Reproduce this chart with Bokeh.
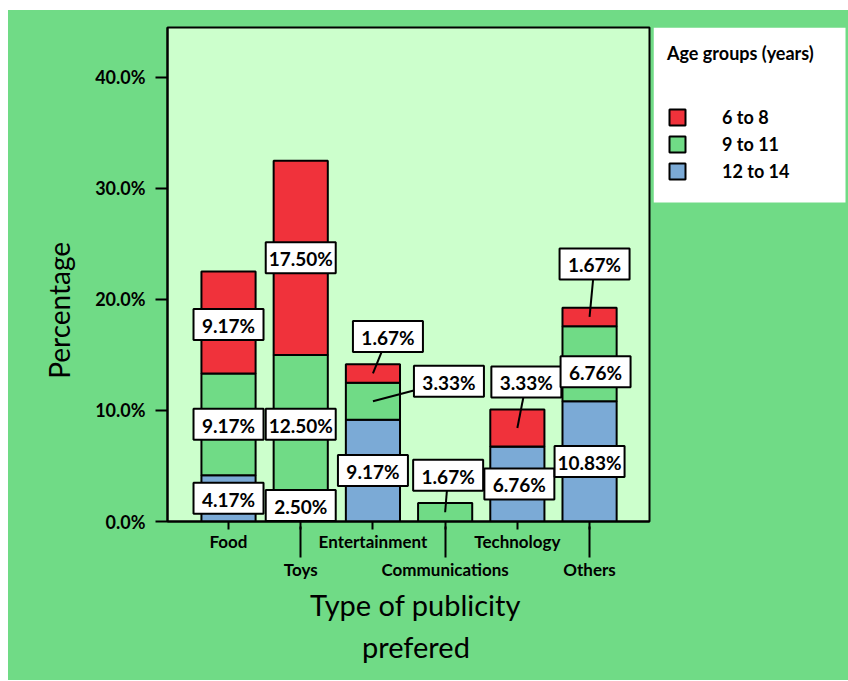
from bokeh.plotting import figure
from bokeh.models import (ColumnDataSource, FixedTicker, LinearAxis, Range1d,
                          Legend, LegendItem, PrintfTickFormatter, Spacer)
from bokeh.layouts import row, column
from bokeh.core.properties import value
from bokeh.embed import file_html
from bokeh.resources import INLINE

# ---------------- data ----------------
categories = ["Food", "Toys", "Entertainment", "Communications", "Technology", "Others"]
age_groups = ["6 to 8", "9 to 11", "12 to 14"]
pct_12_14 = [4.17, 2.50, 9.17, 0.0, 6.76, 10.83]
pct_9_11 = [9.17, 12.50, 3.33, 1.67, 0.0, 6.76]
pct_6_8 = [9.17, 17.50, 1.67, 0.0, 3.33, 1.67]
y_ticks = [0, 10, 20, 30, 40]

# ---------------- style ----------------
OUTER = "#70DB86"
INNER = "#CCFFCC"
RED = "#F0323B"
GREEN = "#70DB86"
BLUE = "#7BAAD6"
FONT = "Lato"
NB = "\u00a0"

W, H = 645, 670
BL, BR, BT, BB = 159, 4, 17, 159
X0, X1 = -0.845, 5.83
Y0, Y1 = 0, 44.5
px_x = (W - BL - BR) / (X1 - X0)
px_y = (H - BT - BB) / (Y1 - Y0)

# label offsets in screen pixels (dx right, dy up) per (category index, group)
label_offsets = {
    (0, "6 to 8"): (0, -2),
    (1, "12 to 14"): (0, 2),
    (2, "6 to 8"): (15, 37),
    (2, "9 to 11"): (76, 20),
    (3, "9 to 11"): (3, 37),
    (4, "6 to 8"): (9, 46),
    (4, "12 to 14"): (2, 0),
    (5, "9 to 11"): (6, -8),
    (5, "6 to 8"): (5, 53),
}
leader_keys = [(2, "6 to 8"), (2, "9 to 11"), (3, "9 to 11"), (4, "6 to 8"), (5, "6 to 8")]

xs = list(range(len(categories)))
src = ColumnDataSource(dict(x=xs, g12=pct_12_14, g9=pct_9_11, g6=pct_6_8))

p = figure(width=W, height=H, output_backend="svg", toolbar_location=None,
           x_range=Range1d(X0, X1), y_range=Range1d(Y0, Y1),
           min_border_left=BL, min_border_right=BR, min_border_top=BT,
           min_border_bottom=BB, x_axis_type=None)
p.border_fill_color = OUTER
p.background_fill_color = INNER
p.outline_line_color = "black"
p.outline_line_width = 2
p.xgrid.visible = False
p.ygrid.visible = False

rs = p.vbar_stack(["g12", "g9", "g6"], x="x", width=0.75, source=src,
                  fill_color=[BLUE, GREEN, RED], line_color="black", line_width=2)

# ---------------- labels ----------------
lx, ly, tx, ty, txt, sx, sy = [], [], [], [], [], [], []
series = {"12 to 14": pct_12_14, "9 to 11": pct_9_11, "6 to 8": pct_6_8}
for i in xs:
    base = 0.0
    for g in ["12 to 14", "9 to 11", "6 to 8"]:
        v = series[g][i]
        if v > 0:
            mid = base + v / 2.0
            dx, dy = label_offsets.get((i, g), (0, 0))
            cx = i + dx / px_x
            cy = mid + dy / px_y
            lx.append(cx)
            ly.append(cy)
            txt.append("%.2f%%" % v)
            if (i, g) in leader_keys:
                sx.append(i)
                sy.append(mid)
                tx.append(cx)
                ty.append(cy)
        base += v

p.segment(x0=sx, y0=sy, x1=tx, y1=ty, line_color="black", line_width=2)
p.rect(x=lx, y=ly, width=70, height=31, width_units="screen", height_units="screen",
       fill_color="white", line_color="black", line_width=2)
p.text(x=lx, y=ly, text=txt, text_align="center", text_baseline="middle",
       text_font=value(FONT), text_font_style="bold", text_font_size="19px",
       text_color="black", y_offset=1)

# ---------------- y axis ----------------
ya = p.yaxis[0]
ya.ticker = FixedTicker(ticks=y_ticks)
ya.formatter = PrintfTickFormatter(format="%.1f%%")
ya.major_tick_out = 12
ya.major_tick_in = 0
ya.minor_tick_line_color = None
ya.major_tick_line_width = 2
ya.axis_line_width = 2
ya.axis_line_color = "black"
ya.major_tick_line_color = "black"
ya.major_label_text_font = FONT
ya.major_label_text_font_style = "bold"
ya.major_label_text_font_size = "18px"
ya.major_label_text_color = "black"
ya.major_label_standoff = 10
ya.axis_label = "Percentage" + NB * 10
ya.axis_label_text_font = FONT
ya.axis_label_text_font_style = "normal"
ya.axis_label_text_font_size = "28px"
ya.axis_label_text_color = "black"
ya.axis_label_standoff = 16

# ---------------- x axes ----------------
# first row: all ticks short, labels on even categories
xa = LinearAxis(ticker=FixedTicker(ticks=xs),
                major_label_overrides={i: (categories[i] if i % 2 == 0 else "") for i in xs})
xa.axis_line_width = 2
xa.axis_line_color = "black"
xa.major_tick_out = 8
xa.major_tick_in = 0
xa.major_tick_line_width = 2
xa.major_tick_line_color = "black"
xa.minor_tick_line_color = None
xa.major_label_text_font = FONT
xa.major_label_text_font_style = "bold"
xa.major_label_text_font_size = "17px"
xa.major_label_text_color = "black"
xa.major_label_standoff = 1
p.add_layout(xa, "below")

# second row: long ticks reaching up, labels on odd categories, title
xb = LinearAxis(ticker=FixedTicker(ticks=[i for i in xs if i % 2 == 1]),
                major_label_overrides={i: categories[i] for i in xs if i % 2 == 1})
xb.axis_line_color = None
xb.major_tick_line_color = "black"
xb.major_tick_line_width = 2
xb.minor_tick_line_color = None
xb.major_tick_out = 3
xb.major_tick_in = 28
xb.major_label_text_font = FONT
xb.major_label_text_font_style = "bold"
xb.major_label_text_font_size = "17px"
xb.major_label_text_color = "black"
xb.major_label_standoff = 1
xb.axis_label = NB * 2 + "Type of publicity\n" + NB * 2 + "prefered"
xb.axis_label_text_font = FONT
xb.axis_label_text_font_style = "normal"
xb.axis_label_text_font_size = "29px"
xb.axis_label_text_color = "black"
xb.axis_label_standoff = 4
p.add_layout(xb, "below")

# ---------------- legend (separate panel, frame aligned with main plot) ----------------
QW = 195
q = figure(width=QW, height=H, output_backend="svg", toolbar_location=None,
           x_range=Range1d(0, 1), y_range=Range1d(0, 1),
           min_border_left=0, min_border_right=0, min_border_top=BT,
           min_border_bottom=BB, x_axis_type=None, y_axis_type=None)
q.border_fill_color = OUTER
q.background_fill_color = None
q.outline_line_color = None
q.xgrid.visible = False
q.ygrid.visible = False
# legend proxies (hidden under the legend box)
proxies = [q.vbar(x=[0.5], bottom=[0.9], top=[0.95], width=0.05, fill_color=c,
                  line_color="black", line_width=2) for c in [RED, GREEN, BLUE]]
box_h = 175.0 / (H - BT - BB)
box_w = 192.0 / QW
q.quad(left=[0], right=[box_w], top=[1], bottom=[1 - box_h], fill_color="white", line_color=None)
items = [LegendItem(label=age_groups[k], renderers=[proxies[k]]) for k in range(3)]
leg = Legend(items=items, location=(14, 339), title="Age groups (years)")
leg.title_text_font = FONT
leg.title_text_font_style = "bold"
leg.title_text_font_size = "18px"
leg.title_text_color = "black"
leg.title_standoff = 42
leg.label_text_font = FONT
leg.label_text_font_style = "bold"
leg.label_text_font_size = "18px"
leg.label_text_color = "black"
leg.glyph_width = 20
leg.glyph_height = 20
leg.label_standoff = 35
leg.spacing = 5
leg.padding = 0
leg.margin = 0
leg.background_fill_color = "white"
leg.background_fill_alpha = 0
leg.border_line_color = None
q.add_layout(leg)

inner = row(p, q, styles={"background-color": OUTER})
layout = row(Spacer(width=8), column(Spacer(height=10), inner))
open("out.html", "w").write(file_html(layout, INLINE))
